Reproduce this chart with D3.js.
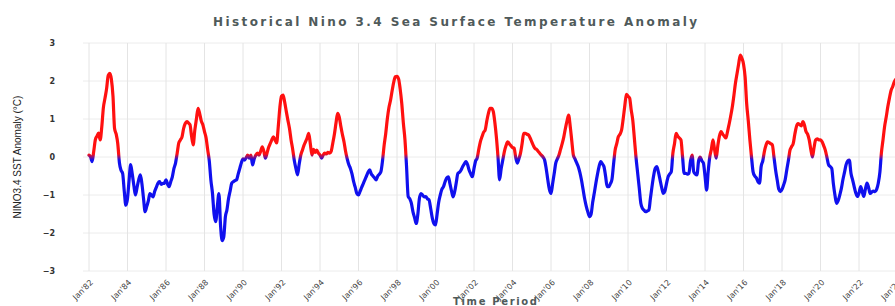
<!DOCTYPE html>
<html>
<head>
<meta charset="utf-8">
<script src="https://cdn.jsdelivr.net/npm/d3@7"></script>
<style>
  html, body { margin: 0; padding: 0; background: #fff; }
  svg { display: block; }
</style>
</head>
<body>
<svg id="chart" width="895" height="306"></svg>
<script>
// Monthly Nino 3.4 SST anomaly (°C), Jan 1982 onward
const anom1980s = [
  0.05, 0.0, -0.12, 0.15, 0.45, 0.55, 0.63, 0.45, 0.8, 1.3, 1.55, 1.8,      // 1982
  2.15, 2.2, 2.05, 1.6, 0.75, 0.6, 0.35, -0.15, -0.35, -0.43, -0.9, -1.27,  // 1983
  -1.1, -0.6, -0.2, -0.45, -0.75, -1.0, -0.8, -0.6, -0.47, -0.7, -1.1, -1.44, // 1984
  -1.3, -1.15, -0.96, -1.0, -1.05, -0.9, -0.8, -0.69, -0.65, -0.72, -0.7, -0.69, // 1985
  -0.6, -0.72, -0.78, -0.65, -0.52, -0.3, -0.16, 0.1, 0.37, 0.45, 0.53, 0.75, // 1986
  0.88, 0.93, 0.9, 0.85, 0.55, 0.32, 0.7, 1.0, 1.28, 1.15, 0.95, 0.85,      // 1987
  0.67, 0.5, 0.2, -0.1, -0.6, -0.96, -1.5, -1.7, -1.3, -0.96, -1.8, -2.2,   // 1988
  -2.1, -1.57, -1.4, -1.1, -0.9, -0.69, -0.65, -0.62, -0.6, -0.45, -0.3, -0.15 // 1989
];
const anom1990s = [
  -0.05, -0.08, -0.02, 0.05, -0.03, 0.05, -0.21, -0.05, 0.05, 0.1, 0.05, 0.15, // 1990
  0.27, 0.15, -0.03, 0.1, 0.25, 0.35, 0.45, 0.53, 0.45, 0.37, 0.8, 1.3,     // 1991
  1.6, 1.63, 1.45, 1.2, 0.97, 0.75, 0.45, 0.2, -0.1, -0.3, -0.47, -0.2,     // 1992
  0.05, 0.18, 0.3, 0.4, 0.5, 0.62, 0.35, 0.05, 0.2, 0.12, 0.18, 0.1,        // 1993
  0.05, -0.03, 0.05, 0.1, 0.08, 0.12, 0.1, 0.15, 0.37, 0.6, 0.9, 1.15,      // 1994
  1.05, 0.8, 0.6, 0.4, 0.15, -0.05, -0.2, -0.3, -0.45, -0.65, -0.8, -0.96,  // 1995
  -1.0, -0.9, -0.8, -0.7, -0.6, -0.5, -0.4, -0.34, -0.45, -0.5, -0.55, -0.6, // 1996
  -0.5, -0.45, -0.39, -0.1, 0.3, 0.62, 1.0, 1.3, 1.5, 1.75, 1.98, 2.11,     // 1997
  2.12, 2.05, 1.8, 1.41, 0.9, 0.45, -0.25, -1.04, -1.1, -1.22, -1.45, -1.6, // 1998
  -1.75, -1.5, -1.1, -0.96, -1.0, -1.05, -1.04, -1.1, -1.13, -1.35, -1.6, -1.75 // 1999
];
const anom2000s = [
  -1.79, -1.5, -1.2, -1.0, -0.85, -0.78, -0.65, -0.55, -0.52, -0.7, -0.9, -1.05, // 2000
  -0.9, -0.65, -0.43, -0.4, -0.34, -0.25, -0.18, -0.12, -0.2, -0.35, -0.45, -0.52, // 2001
  -0.3, -0.1, -0.03, 0.2, 0.4, 0.53, 0.65, 0.71, 0.95, 1.15, 1.28, 1.28,    // 2002
  1.2, 0.9, 0.53, 0.0, -0.6, -0.3, -0.08, 0.15, 0.3, 0.4, 0.35, 0.3,        // 2003
  0.25, 0.23, 0.0, -0.16, -0.05, 0.1, 0.35, 0.62, 0.62, 0.6, 0.58, 0.5,     // 2004
  0.4, 0.3, 0.23, 0.2, 0.15, 0.1, 0.05, 0.0, -0.08, -0.3, -0.6, -0.85,      // 2005
  -0.96, -0.7, -0.45, -0.16, -0.05, 0.05, 0.2, 0.35, 0.53, 0.75, 0.95, 1.1, // 2006
  0.8, 0.4, 0.05, -0.05, -0.15, -0.25, -0.4, -0.6, -0.85, -1.1, -1.3, -1.45, // 2007
  -1.57, -1.5, -1.2, -0.95, -0.69, -0.45, -0.25, -0.12, -0.18, -0.25, -0.5, -0.78, // 2008
  -0.78, -0.7, -0.6, -0.2, 0.18, 0.35, 0.53, 0.6, 0.71, 1.0, 1.35, 1.65     // 2009
];
const anom2010s = [
  1.6, 1.55, 1.25, 0.97, 0.5, 0.0, -0.4, -0.8, -1.22, -1.35, -1.4, -1.44,   // 2010
  -1.42, -1.4, -1.1, -0.78, -0.5, -0.3, -0.25, -0.4, -0.6, -0.8, -0.96, -0.9, // 2011
  -0.7, -0.52, -0.45, -0.39, 0.1, 0.35, 0.62, 0.55, 0.5, 0.45, 0.0, -0.43,  // 2012
  -0.43, -0.45, -0.43, -0.1, 0.05, -0.39, -0.45, -0.47, -0.1, 0.0, -0.1, -0.16, // 2013
  -0.5, -0.87, -0.4, 0.0, 0.2, 0.45, 0.2, -0.03, 0.3, 0.55, 0.67, 0.6,      // 2014
  0.55, 0.5, 0.65, 0.85, 1.06, 1.3, 1.6, 1.94, 2.2, 2.45, 2.68, 2.6,        // 2015
  2.45, 2.1, 1.41, 0.95, 0.45, 0.0, -0.39, -0.5, -0.55, -0.65, -0.69, -0.25, // 2016
  -0.1, 0.15, 0.3, 0.4, 0.38, 0.35, 0.32, 0.0, -0.34, -0.6, -0.85, -0.91,   // 2017
  -0.85, -0.73, -0.6, -0.34, -0.1, 0.18, 0.27, 0.35, 0.6, 0.8, 0.88, 0.85,  // 2018
  0.82, 0.93, 0.85, 0.67, 0.6, 0.45, 0.2, 0.0, 0.25, 0.45, 0.48, 0.45       // 2019
];
const anom2020s = [
  0.45, 0.4, 0.3, 0.18, 0.0, -0.2, -0.25, -0.3, -0.7, -1.0, -1.22, -1.15,   // 2020
  -1.0, -0.82, -0.6, -0.4, -0.2, -0.1, -0.08, -0.43, -0.6, -0.78, -0.95, -1.04, // 2021
  -0.95, -0.78, -0.9, -1.04, -0.85, -0.69, -0.8, -0.96, -0.92, -0.9, -0.91, -0.85, // 2022
  -0.69, -0.4, 0.1, 0.45, 0.8, 1.05, 1.32, 1.55, 1.75, 1.85, 1.98, 2.05     // 2023
];
const startYear = 1982;
const yTicks = [-3, -2, -1, 0, 1, 2, 3];
const xTickYears = d3.range(1982, 2025, 2);

const titleText = "Historical Nino 3.4 Sea Surface Temperature Anomaly";
const xTitle = "Time Period";
const yTitle = "NINO3.4 SST Anomaly (°C)";

const values = [].concat(anom1980s, anom1990s, anom2000s, anom2010s, anom2020s);
const data = values.map((v, i) => ({ date: new Date(startYear + Math.floor(i / 12), i % 12, 1), v }));

const svg = d3.select("#chart");
const plotLeft = 83, plotRight = 895;

const x = d3.scaleTime()
  .domain([new Date(1982, 0, 1), new Date(2024, 0, 1)])
  .range([89, 897.5]);
const y = d3.scaleLinear().domain([-3, 3]).range([271, 43]);

// grid
const grid = svg.append("g");
grid.selectAll("line.h").data(yTicks).join("line")
  .attr("x1", plotLeft).attr("x2", plotRight)
  .attr("y1", d => y(d)).attr("y2", d => y(d))
  .attr("stroke", "#ececec").attr("stroke-width", 1);
grid.selectAll("line.v").data(xTickYears).join("line")
  .attr("x1", d => x(new Date(d, 0, 1))).attr("x2", d => x(new Date(d, 0, 1)))
  .attr("y1", y(3)).attr("y2", y(-3))
  .attr("stroke", "#e4e4e4").attr("stroke-width", 1);

// y axis labels
const yAxis = d3.axisLeft(y).tickValues(yTicks).tickSize(0).tickPadding(0)
  .tickFormat(d => d < 0 ? "\u2212" + Math.abs(d) : d);
const yg = svg.append("g").attr("transform", "translate(55,0)").call(yAxis);
yg.select(".domain").remove();
yg.selectAll("text").attr("font-family", "DejaVu Sans, sans-serif")
  .attr("font-size", 8).attr("font-weight", "bold").attr("fill", "#333");

// x axis labels
const xAxis = d3.axisBottom(x).tickValues(xTickYears.map(d => new Date(d, 0, 1)))
  .tickSize(0).tickFormat(d3.timeFormat("Jan'%y"));
const xg = svg.append("g").attr("transform", `translate(0,${y(-3)})`).call(xAxis);
xg.select(".domain").remove();
xg.selectAll("text")
  .attr("font-family", "DejaVu Sans, sans-serif").attr("font-size", 8)
  .attr("fill", "#444")
  .attr("text-anchor", "end").attr("dy", null).attr("y", 0)
  .attr("transform", "translate(4,12) rotate(-45)");

// gradient: red above zero, blue below
const defs = svg.append("defs");
const grad = defs.append("linearGradient").attr("id", "sstGrad")
  .attr("gradientUnits", "userSpaceOnUse")
  .attr("x1", 0).attr("x2", 0).attr("y1", y(3)).attr("y2", y(-3));
const span = y(-3) - y(3);
grad.append("stop").attr("offset", (y(0.08) - y(3)) / span).attr("stop-color", "#ff1010");
grad.append("stop").attr("offset", (y(-0.08) - y(3)) / span).attr("stop-color", "#1010ee");

const line = d3.line().x(d => x(d.date)).y(d => y(d.v)).curve(d3.curveMonotoneX);
svg.append("path").datum(data)
  .attr("d", line).attr("fill", "none")
  .attr("stroke", "url(#sstGrad)").attr("stroke-width", 3.2)
  .attr("stroke-linejoin", "round").attr("stroke-linecap", "round");

// titles
svg.append("text").attr("x", 455).attr("y", 26)
  .attr("text-anchor", "middle").attr("font-family", "DejaVu Sans, sans-serif")
  .attr("font-size", 12).attr("font-weight", "bold").attr("fill", "#4f5a5a")
  .attr("textLength", 484).attr("lengthAdjust", "spacing")
  .text(titleText);

svg.append("text").attr("x", 495).attr("y", 305)
  .attr("text-anchor", "middle").attr("font-family", "DejaVu Sans, sans-serif")
  .attr("font-size", 10).attr("font-weight", "bold").attr("fill", "#4f5a5a")
  .attr("textLength", 84).attr("lengthAdjust", "spacing")
  .text(xTitle);

svg.append("text")
  .attr("transform", `translate(21,${157}) rotate(-90)`)
  .attr("text-anchor", "middle")
  .attr("font-family", "Liberation Sans Narrow, Liberation Sans, sans-serif")
  .attr("font-size", 10).attr("fill", "#222")
  .text(yTitle);
</script>
</body>
</html>
